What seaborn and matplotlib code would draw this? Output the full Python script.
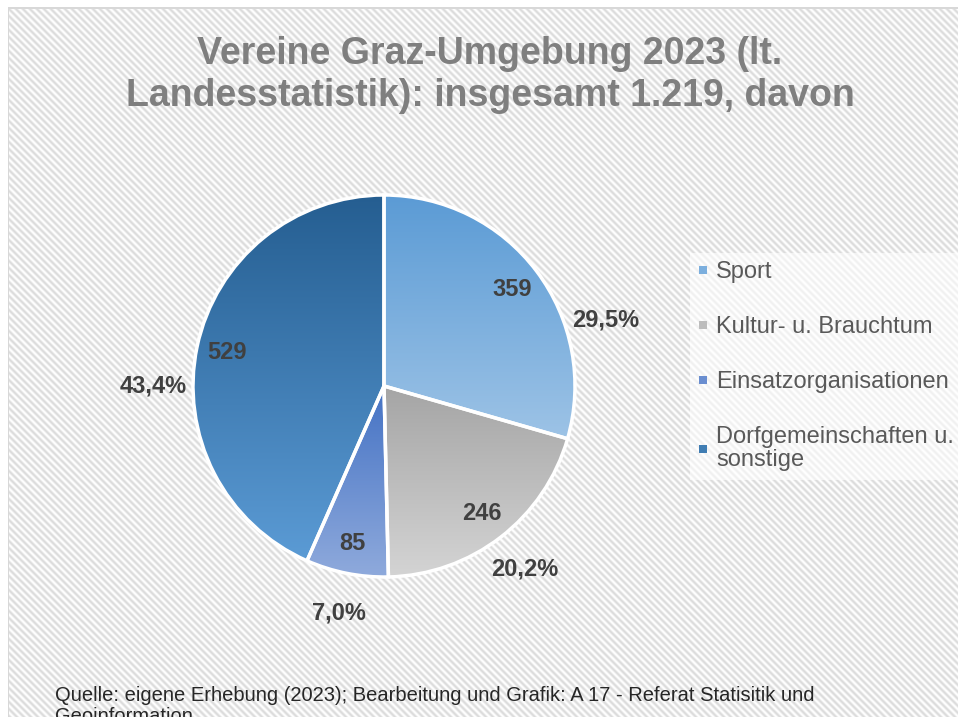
import numpy as np
import seaborn as sns
import matplotlib.pyplot as plt
from matplotlib.lines import Line2D

# Daten
kategorien = ['Sport', 'Kultur- u. Brauchtum', 'Einsatzorganisationen',
              'Dorfgemeinschaften u.\nsonstige']
anzahl = [359, 246, 85, 529]
prozent = ['29,5%', '20,2%', '7,0%', '43,4%']

# Farbverlauf je Segment (oben -> unten)
farben_oben = ['#5b9bd5', '#a5a5a5', '#4472c4', '#255e91']
farben_unten = ['#9dc3e6', '#d4d4d4', '#8faadc', '#5b9bd5']
# kleine Winkelkorrektur der Prozent-Beschriftung wie im Original (Grad)
winkel_korr = [-20.5, 0, 0, 11.9]

sns.set_style('white')
plt.rcParams['font.family'] = ['Liberation Sans', 'DejaVu Sans']

W, H = 958, 717
fig = plt.figure(figsize=(W / 100, H / 100), dpi=100)
fig.patch.set_facecolor('white')

# schraffierter Hintergrund (diagonale Streifen) als Bild
yy, xx = np.mgrid[0:H, 0:W]
streifen = 0.5 + 0.5 * np.cos(2 * np.pi * (xx - yy) / 7.0)
hell, dunkel = np.array([1.0, 1.0, 1.0]), np.array([0.86, 0.86, 0.86])
bild = hell + (dunkel - hell) * streifen[..., None]
bild[:, :8] = 1.0
bild[:7, :] = 1.0
bild[7:9, 8:] = 0.85
bild[7:, 8:9] = 0.85
fig.figimage(bild, xo=0, yo=0, origin='upper', zorder=-5)

# Kreisdiagramm
cx, cy, r = 384, 386, 191
ax = fig.add_axes([(cx - r) / W, (H - cy - r) / H, 2 * r / W, 2 * r / H], zorder=2)
ax.set_facecolor('none')

wedges, _ = ax.pie(anzahl, startangle=90, counterclock=False, radius=1,
                   wedgeprops=dict(facecolor='none', edgecolor='white', linewidth=2.5, zorder=3))

for i, w in enumerate(wedges):
    bb = w.get_path().get_extents()
    cmap = sns.blend_palette([farben_oben[i], farben_unten[i]], n_colors=256, as_cmap=True)
    grad = np.linspace(0, 1, 256).reshape(-1, 1)
    im = ax.imshow(grad, cmap=cmap, extent=[bb.x0, bb.x1, bb.y0, bb.y1],
                   origin='upper', aspect='auto', zorder=2)
    im.set_clip_path(w)

    mitte = np.deg2rad((w.theta1 + w.theta2) / 2)
    ax.text(0.84 * np.cos(mitte), 0.84 * np.sin(mitte), str(anzahl[i]),
            ha='center', va='center', fontsize=17, fontweight='bold',
            color='#404040', zorder=5)
    aussen = np.deg2rad((w.theta1 + w.theta2) / 2 + winkel_korr[i])
    ax.text(1.21 * np.cos(aussen), 1.21 * np.sin(aussen), prozent[i],
            ha='center', va='center', fontsize=17, fontweight='bold',
            color='#404040', zorder=5)

ax.set_xlim(-1, 1)
ax.set_ylim(-1, 1)
ax.set_aspect('equal')
ax.axis('off')

# Titel
fig.text(490 / W, 1 - 75 / H,
         'Vereine Graz-Umgebung 2023 (lt.\nLandesstatistik): insgesamt 1.219, davon',
         ha='center', va='center', fontsize=27, fontweight='bold', color='#7f7f7f')

# Legende
griffe = [Line2D([], [], marker='s', linestyle='none', markersize=6,
                 markerfacecolor=sns.blend_palette([farben_oben[i], farben_unten[i]], 3)[1],
                 markeredgewidth=0) for i in range(len(kategorien))]
leg = fig.legend(griffe, kategorien, loc='upper left',
                 bbox_to_anchor=(690 / W, 1 - 253 / H), bbox_transform=fig.transFigure,
                 fontsize=17, labelcolor='#595959', frameon=True, fancybox=False,
                 handlelength=0.4, handletextpad=0.35, labelspacing=1.4,
                 borderpad=0.35, borderaxespad=0)
leg.get_frame().set_facecolor('white')
leg.get_frame().set_alpha(0.6)
leg.get_frame().set_linewidth(0)
for t in leg.get_texts():
    t.set_linespacing(1.05)

# Quelle
fig.text(55 / W, 1 - 686 / H,
         'Quelle: eigene Erhebung (2023); Bearbeitung und Grafik: A 17 - Referat Statisitik und\nGeoinformation',
         ha='left', va='top', fontsize=14.5, color='#262626', linespacing=1.1)

fig.savefig('out.png', dpi=100)
